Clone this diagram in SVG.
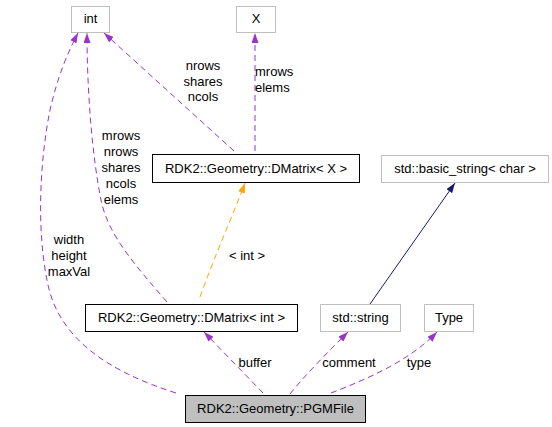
<svg xmlns="http://www.w3.org/2000/svg" width="552" height="427" viewBox="0 0 552 427">
<style>
text{font-family:"Liberation Sans",Arial,sans-serif;font-size:13px;fill:#000;text-anchor:middle}
.g rect{fill:#fff;stroke:#bfbfbf;stroke-width:1}
.b rect{fill:#fff;stroke:#000;stroke-width:1}
.m rect{fill:#bfbfbf;stroke:#000;stroke-width:1}
.p{fill:none;stroke:#9a32cd;stroke-dasharray:6,4}
.o{fill:none;stroke:#ffa500;stroke-dasharray:6,4}
.n{fill:none;stroke:#191970}
</style>
<defs>
<marker id="ap" viewBox="0 0 10 7" refX="10" refY="3.5" markerWidth="10" markerHeight="7" markerUnits="userSpaceOnUse" orient="auto"><path d="M0,0 L10,3.5 L0,7 z" fill="#9a32cd"/></marker>
<marker id="ao" viewBox="0 0 10 7" refX="10" refY="3.5" markerWidth="10" markerHeight="7" markerUnits="userSpaceOnUse" orient="auto"><path d="M0,0 L10,3.5 L0,7 z" fill="#ffa500"/></marker>
<marker id="an" viewBox="0 0 10 7" refX="10" refY="3.5" markerWidth="10" markerHeight="7" markerUnits="userSpaceOnUse" orient="auto"><path d="M0,0 L10,3.5 L0,7 z" fill="#191970"/></marker>
</defs>
<g id="edges">
<path class="p" d="M176,393 C110,372 60,340 48,285 C36,230 40,160 50,110 C58,75 68,52 78,33" marker-end="url(#ap)"/>
<path class="p" d="M167,302 C135,265 108,235 101,200 C92,155 87,90 87,33" marker-end="url(#ap)"/>
<path class="p" d="M234,151 L104,33" marker-end="url(#ap)"/>
<path class="p" d="M255,151 L255,33" marker-end="url(#ap)"/>
<path class="o" d="M200,297 C215,255 235,210 245,183" marker-end="url(#ao)"/>
<path class="n" d="M370,304 L455,183" marker-end="url(#an)"/>
<path class="p" d="M263,393 L204,332" marker-end="url(#ap)"/>
<path class="p" d="M290,394 C305,375 330,350 348,332" marker-end="url(#ap)"/>
<path class="p" d="M331,393 C370,378 410,360 437,332" marker-end="url(#ap)"/>
<text x="69" y="244">width</text>
<text x="69" y="260">height</text>
<text x="69" y="276">maxVal</text>
<text x="121" y="140">mrows</text>
<text x="121" y="156">nrows</text>
<text x="121" y="172">shares</text>
<text x="121" y="188">ncols</text>
<text x="121" y="204">elems</text>
<text x="203" y="70">nrows</text>
<text x="203" y="86">shares</text>
<text x="203" y="101">ncols</text>
<text x="255" y="76" style="text-anchor:start">mrows</text>
<text x="255" y="92" style="text-anchor:start">elems</text>
<text x="247" y="260">&lt; int &gt;</text>
<text x="255" y="367">buffer</text>
<text x="349" y="367">comment</text>
<text x="419" y="367">type</text>
</g>
<g id="int" class="g"><rect x="71.5" y="6.5" width="38" height="26"/><text x="90.5" y="23">int</text></g>
<g id="X" class="g"><rect x="236.5" y="6.5" width="39" height="26"/><text x="256" y="23">X</text></g>
<g id="dmatrixX" class="b"><rect x="152.5" y="154.5" width="207" height="28"/><text x="256" y="173">RDK2::Geometry::DMatrix&lt; X &gt;</text></g>
<g id="basicstring" class="g"><rect x="381.5" y="155.5" width="167" height="27"/><text x="465" y="173">std::basic_string&lt; char &gt;</text></g>
<g id="dmatrixint" class="b"><rect x="85.5" y="304.5" width="212" height="27"/><text x="191.5" y="322">RDK2::Geometry::DMatrix&lt; int &gt;</text></g>
<g id="string" class="g"><rect x="320.5" y="304.5" width="80" height="27"/><text x="360.5" y="322">std::string</text></g>
<g id="Type" class="g"><rect x="424.5" y="304.5" width="49" height="27"/><text x="449" y="322">Type</text></g>
<g id="PGMFile" class="m"><rect x="185.5" y="395.5" width="180" height="27"/><text x="275.5" y="413">RDK2::Geometry::PGMFile</text></g>
</svg>
